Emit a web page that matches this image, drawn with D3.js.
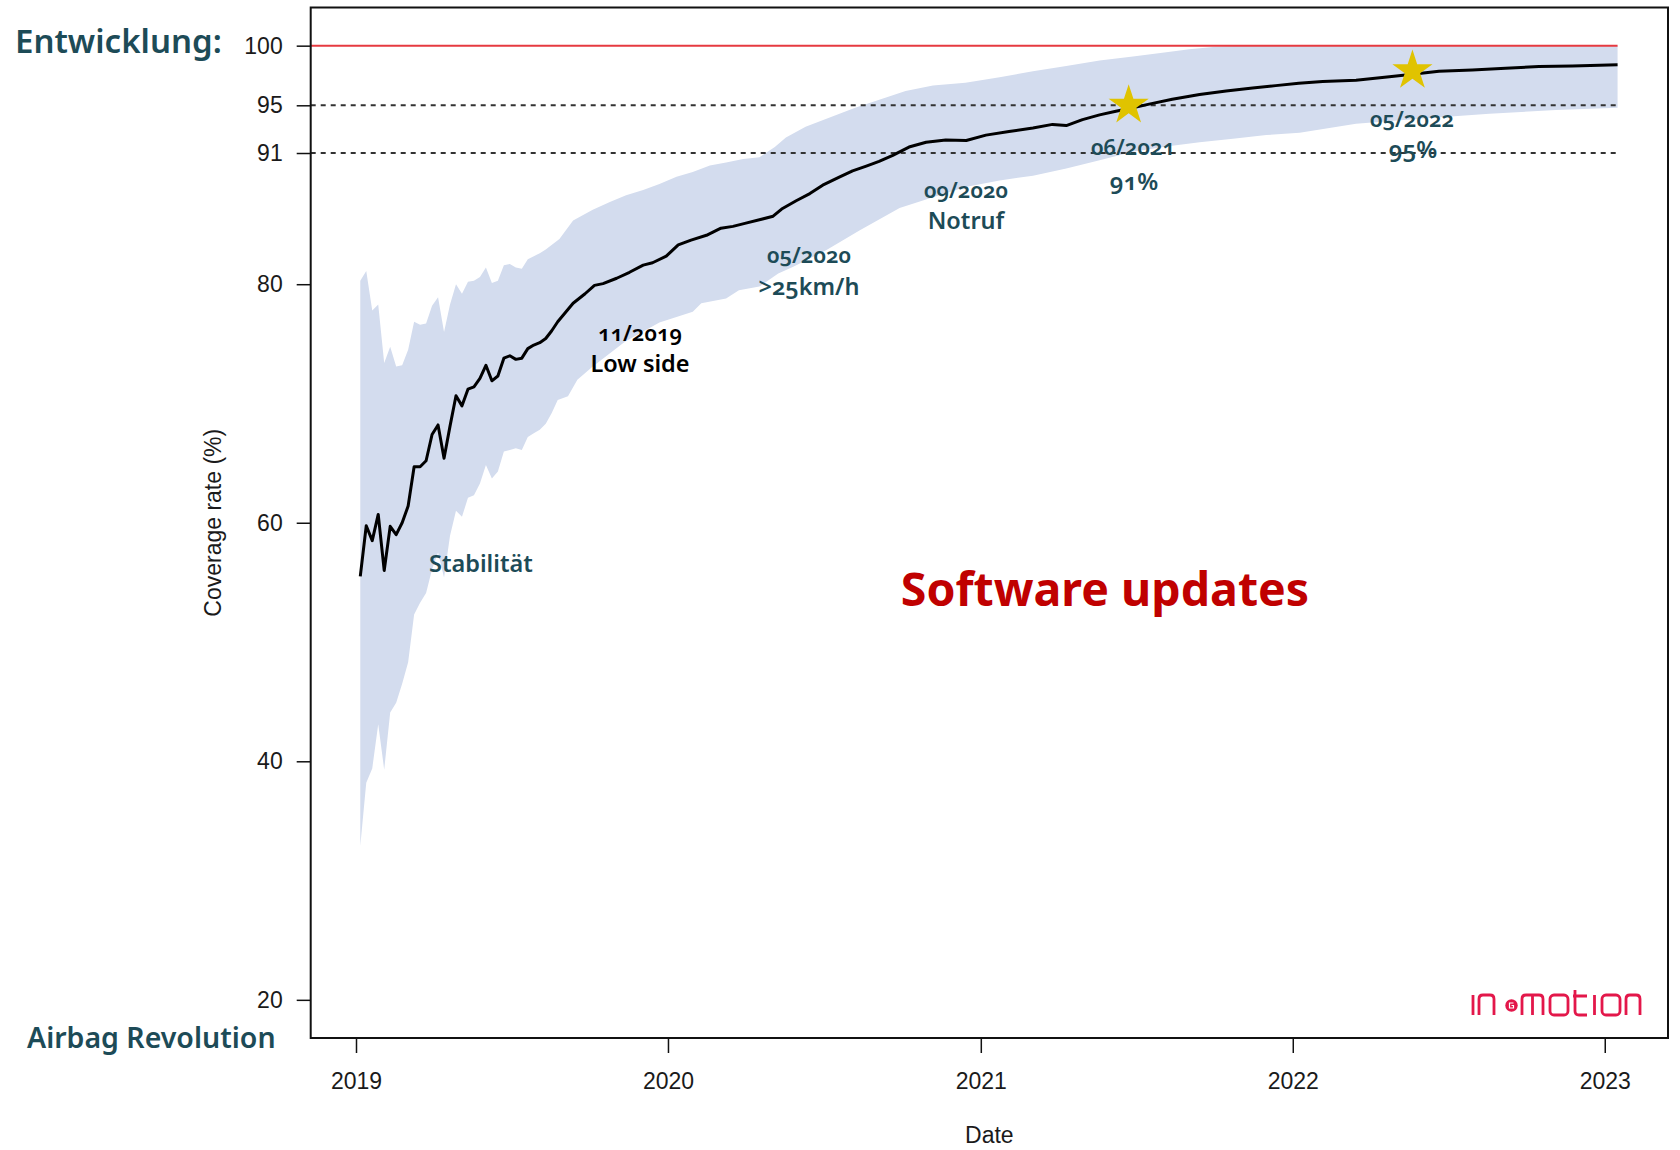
<!DOCTYPE html>
<html>
<head>
<meta charset="utf-8">
<script src="https://cdn.jsdelivr.net/npm/d3@7"></script>
<style>
  body { margin: 0; background: #fff; }
  svg { display: block; }
  .note { font-family: "Noto Sans", "Open Sans", sans-serif; font-variant-numeric: oldstyle-nums; }
</style>
</head>
<body>
<svg id="chart"></svg>
<script>
// median coverage rate (black line)
const lineDates = [
  "2019-01-06","2019-01-13","2019-01-20","2019-01-27","2019-02-03","2019-02-10","2019-02-17","2019-02-24",
  "2019-03-03","2019-03-10","2019-03-17","2019-03-24","2019-03-31","2019-04-07","2019-04-14","2019-04-21",
  "2019-04-28","2019-05-05","2019-05-12","2019-05-19","2019-05-26","2019-06-02","2019-06-09","2019-06-16",
  "2019-06-23","2019-06-30","2019-07-07","2019-07-14","2019-07-21","2019-07-28","2019-08-04","2019-08-11",
  "2019-08-18","2019-08-25","2019-09-12","2019-09-26","2019-10-07","2019-10-17","2019-11-02","2019-11-17",
  "2019-12-03","2019-12-14","2019-12-30","2020-01-13","2020-01-28","2020-02-15","2020-03-03","2020-03-17",
  "2020-03-31","2020-04-17","2020-05-03","2020-05-13","2020-05-30","2020-06-15","2020-06-30","2020-07-20",
  "2020-08-04","2020-08-20","2020-09-04","2020-09-20","2020-10-09","2020-10-29","2020-11-21","2020-12-15",
  "2021-01-07","2021-02-03","2021-03-03","2021-03-26","2021-04-11","2021-04-30","2021-05-20","2021-06-08",
  "2021-06-28","2021-07-17","2021-08-13","2021-09-14","2021-10-15","2021-11-15","2021-12-12","2022-01-08",
  "2022-02-05","2022-03-16","2022-04-24","2022-05-21","2022-06-21","2022-07-30","2022-09-07","2022-10-16",
  "2022-11-24","2023-01-16"
];
const lineValues = [
  55.5, 59.75, 58.5, 60.7, 56.0, 59.7, 59.0, 60.0,
  61.4, 64.7, 64.7, 65.2, 67.4, 68.2, 65.4, 68.1,
  70.65, 69.8, 71.2, 71.4, 72.1, 73.2, 71.9, 72.3,
  73.8, 74.0, 73.7, 73.8, 74.6, 74.9, 75.1, 75.45,
  76.1, 76.85, 78.4, 79.2, 79.9, 80.05, 80.5, 81.0,
  81.6, 81.8, 82.35, 83.3, 83.7, 84.1, 84.7, 84.85,
  85.1, 85.4, 85.7, 86.3, 87.0, 87.6, 88.3, 89.0,
  89.5, 89.9, 90.3, 90.8, 91.5, 91.9, 92.1, 92.05,
  92.5, 92.8, 93.1, 93.4, 93.3, 93.8, 94.2, 94.5,
  94.8, 95.1, 95.5, 95.9, 96.2, 96.45, 96.65, 96.85,
  97.0, 97.1, 97.4, 97.6, 97.85, 97.95, 98.1, 98.25,
  98.3, 98.4
];

// upper edge of the band
const upperDates = [
  "2019-01-06","2019-01-13","2019-01-20","2019-01-27","2019-02-03","2019-02-10","2019-02-17","2019-02-24",
  "2019-03-03","2019-03-10","2019-03-17","2019-03-24","2019-03-31","2019-04-07","2019-04-14","2019-04-21",
  "2019-04-28","2019-05-05","2019-05-12","2019-05-19","2019-05-26","2019-06-02","2019-06-09","2019-06-16",
  "2019-06-23","2019-06-30","2019-07-07","2019-07-14","2019-07-21","2019-07-28","2019-08-04","2019-08-11",
  "2019-08-27","2019-09-12","2019-10-05","2019-10-25","2019-11-13","2019-12-03","2019-12-22","2020-01-11",
  "2020-01-30","2020-02-19","2020-03-09","2020-03-29","2020-04-17","2020-05-05","2020-05-18","2020-06-10",
  "2020-08-07","2020-10-05","2020-11-06","2020-12-14","2021-01-23","2021-03-03","2021-04-11","2021-05-20",
  "2021-06-28","2021-08-06","2021-09-02","2021-10-03","2021-10-31","2023-01-16"
];
const upperValues = [
  80.3, 81.1, 77.8, 78.3, 73.4, 74.75, 73.1, 73.2,
  74.5, 76.85, 76.6, 76.7, 78.2, 78.9, 76.0, 78.3,
  80.0, 79.2, 80.2, 80.3, 80.6, 81.4, 80.1, 80.3,
  81.6, 81.7, 81.4, 81.3, 82.1, 82.35, 82.6, 82.9,
  83.8, 85.35, 86.25, 86.9, 87.45, 87.9, 88.4, 89.0,
  89.4, 89.95, 90.2, 90.5, 90.65, 91.5, 92.3, 93.2,
  94.8, 96.2, 96.65, 96.9, 97.35, 97.85, 98.3, 98.75,
  99.1, 99.45, 99.7, 99.9, 100, 100
];

// lower edge of the band
const lowerDates = [
  "2019-01-06","2019-01-13","2019-01-20","2019-01-27","2019-02-03","2019-02-10","2019-02-17","2019-02-24",
  "2019-03-03","2019-03-10","2019-03-17","2019-03-24","2019-03-31","2019-04-07","2019-04-14","2019-04-21",
  "2019-04-28","2019-05-05","2019-05-12","2019-05-19","2019-05-26","2019-06-02","2019-06-09","2019-06-16",
  "2019-06-23","2019-06-30","2019-07-07","2019-07-14","2019-07-21","2019-07-28","2019-08-04","2019-08-11",
  "2019-08-18","2019-08-25","2019-09-06","2019-09-17","2019-10-05","2019-11-12","2019-12-22","2020-01-30",
  "2020-02-09","2020-03-09","2020-03-24","2020-04-17","2020-05-09","2020-05-26","2020-07-04","2020-08-12",
  "2020-09-28","2020-11-06","2020-12-14","2021-01-23","2021-03-03","2021-04-11","2021-05-20","2021-06-28",
  "2021-08-06","2021-09-14","2021-10-23","2021-12-01","2022-01-09","2022-03-16","2022-06-02","2022-08-19",
  "2022-11-05","2023-01-16"
];
const lowerValues = [
  32.9, 38.2, 39.4, 43.1, 39.3, 44.1, 44.9, 46.5,
  48.3, 52.3, 53.3, 54.1, 56.1, 57.5, 55.4, 58.9,
  61.0, 60.5, 62.1, 62.3, 63.3, 64.85, 63.7, 64.3,
  65.97, 66.1, 66.25, 66.1, 67.2, 67.5, 67.8, 68.3,
  69.2, 70.3, 70.6, 72.0, 73.1, 75.2, 76.8, 77.7,
  78.4, 78.8, 79.5, 79.8, 80.9, 81.45, 82.85, 84.5,
  86.4, 87.3, 88.15, 88.7, 89.1, 89.7, 90.4, 91.1,
  91.55, 91.9, 92.2, 92.5, 92.7, 93.45, 93.9, 94.3,
  94.6, 94.8
];

// milestones marked with stars
const starDates = ["2021-06-23", "2022-05-21"];
const starValues = [95.0, 97.9];

const yTicks = [20, 40, 60, 80, 91, 95, 100];
const xTickYears = ["2019", "2020", "2021", "2022", "2023"];
const refLines = [91, 95];
const targetLine = 100;

const width = 1680;
const height = 1150;
const plot = { left: 310.7, right: 1668, top: 7.5, bottom: 1038 };

const parseDate = d3.utcParse('%Y-%m-%d');
const teal = '#1d4b57';

let svg = d3.select('#chart').attr('width', width).attr('height', height);

let xScale = d3.scaleUtc()
  .domain([parseDate('2018-11-09'), parseDate('2023-03-16')])
  .range([plot.left, plot.right]);

let yScale = d3.scaleLinear()
  .domain([16.8, 103.2])
  .range([plot.bottom, plot.top]);

const lineData = lineDates.map((d, i) => ({ date: parseDate(d), value: lineValues[i] }));
const upperData = upperDates.map((d, i) => ({ date: parseDate(d), value: upperValues[i] }));
const lowerData = lowerDates.map((d, i) => ({ date: parseDate(d), value: lowerValues[i] }));
const endDate = lineData[lineData.length - 1].date;

const pathGen = d3.line()
  .x(d => xScale(d.date))
  .y(d => yScale(d.value));

// band: upper edge left to right, lower edge back
svg.append('path')
  .attr('d', pathGen(upperData.concat(lowerData.slice().reverse())) + 'Z')
  .attr('fill', '#d3dcee');

// reference lines
svg.append('line')
  .attr('x1', plot.left).attr('x2', xScale(endDate))
  .attr('y1', yScale(targetLine)).attr('y2', yScale(targetLine))
  .attr('stroke', '#e63a40').attr('stroke-width', 2);

svg.selectAll('.ref')
  .data(refLines)
  .enter()
  .append('line')
  .attr('class', 'ref')
  .attr('x1', plot.left).attr('x2', xScale(endDate))
  .attr('y1', d => yScale(d)).attr('y2', d => yScale(d))
  .attr('stroke', '#333').attr('stroke-width', 2)
  .attr('stroke-dasharray', '5,5');

// median line
svg.append('path')
  .attr('d', pathGen(lineData))
  .attr('fill', 'none')
  .attr('stroke', '#000')
  .attr('stroke-width', 3)
  .attr('stroke-linejoin', 'round');

// stars
svg.selectAll('.star')
  .data(starDates.map((d, i) => ({ date: parseDate(d), value: starValues[i] })))
  .enter()
  .append('path')
  .attr('class', 'star')
  .attr('d', d3.symbol().type(d3.symbolStar).size(500))
  .attr('transform', d => 'translate(' + xScale(d.date) + ',' + yScale(d.value) + ')')
  .attr('fill', '#e0c300');

// frame
svg.append('rect')
  .attr('x', plot.left).attr('y', plot.top)
  .attr('width', plot.right - plot.left).attr('height', plot.bottom - plot.top)
  .attr('fill', 'none').attr('stroke', '#111').attr('stroke-width', 2);

// axes
let yAxis = d3.axisLeft(yScale).tickValues(yTicks).tickSize(14).tickPadding(14);
let yG = svg.append('g')
  .attr('transform', 'translate(' + plot.left + ',0)')
  .call(yAxis);

let xAxis = d3.axisBottom(xScale)
  .tickValues(xTickYears.map(y => parseDate(y + '-01-01')))
  .tickFormat(d3.utcFormat('%Y'))
  .tickSize(15).tickPadding(20);
let xG = svg.append('g')
  .attr('transform', 'translate(0,' + plot.bottom + ')')
  .call(xAxis);

[yG, xG].forEach(g => {
  g.select('.domain').remove();
  g.selectAll('.tick line').attr('stroke', '#111').attr('stroke-width', 1.5);
  g.selectAll('.tick text')
    .attr('font-family', '"Liberation Sans", Arial, sans-serif')
    .attr('font-size', 23)
    .attr('fill', '#1a1a1a');
});

svg.append('text')
  .attr('x', (plot.left + plot.right) / 2).attr('y', 1143)
  .attr('text-anchor', 'middle')
  .attr('font-family', '"Liberation Sans", Arial, sans-serif')
  .attr('font-size', 23).attr('fill', '#1a1a1a')
  .text('Date');

svg.append('text')
  .attr('transform', 'translate(221,' + ((plot.top + plot.bottom) / 2) + ') rotate(-90)')
  .attr('text-anchor', 'middle')
  .attr('font-family', '"Liberation Sans", Arial, sans-serif')
  .attr('font-size', 23).attr('fill', '#1a1a1a')
  .text('Coverage rate (%)');

// annotations
function note (x, y, txt, size, weight, color, anchor) {
  svg.append('text')
    .attr('class', 'note')
    .attr('x', x).attr('y', y)
    .attr('text-anchor', anchor || 'middle')
    .attr('font-size', size)
    .attr('font-weight', weight)
    .attr('fill', color)
    .text(txt);
}

note(15, 53, 'Entwicklung:', 33, 600, teal, 'start');
note(27, 1048, 'Airbag Revolution', 28.5, 600, teal, 'start');
note(1105, 606, 'Software updates', 46.5, 700, '#c00000');
note(429, 572, 'Stabilität', 23.5, 600, teal, 'start');
note(640, 341, '11/2019', 22, 600, '#000');
note(640, 372, 'Low side', 23.5, 600, '#000');
note(809, 263, '05/2020', 22, 600, teal);
note(809, 295, '>25km/h', 23.5, 600, teal);
note(966, 198, '09/2020', 22, 600, teal);
note(966, 229, 'Notruf', 23.5, 600, teal);
note(1133, 155, '06/2021', 22, 600, teal);
note(1134, 190, '91%', 24, 600, teal);
note(1412, 127, '05/2022', 22, 600, teal);
note(1413, 158, '95%', 24, 600, teal);

// inmotion logo, drawn as thin square strokes
let logo = svg.append('g')
  .attr('fill', 'none')
  .attr('stroke', '#e3174a')
  .attr('stroke-width', 2.8);
const logoStrokes = [
  'M1473,995V1015',
  'M1479,1015V999Q1479,995 1483,995H1490Q1494,995 1494,999V1015',
  'M1522,1015V999Q1522,995 1526,995H1539Q1543,995 1543,999V1015M1532.5,995V1015',
  'M1575,990V1011Q1575,1015 1579,1015H1587M1573,996H1587',
  'M1594.5,995V1015',
  'M1626,1015V999Q1626,995 1630,995H1636Q1640,995 1640,999V1015'
];
logoStrokes.forEach(p => logo.append('path').attr('d', p));
logo.append('rect').attr('x', 1550).attr('y', 995).attr('width', 18).attr('height', 20).attr('rx', 4);
logo.append('rect').attr('x', 1602).attr('y', 995).attr('width', 18).attr('height', 20).attr('rx', 4);
svg.append('circle').attr('cx', 1511.5).attr('cy', 1005.5).attr('r', 6.2).attr('fill', '#e3174a');
svg.append('path')
  .attr('d', 'M1513.5,1003H1509.5V1008H1513.5V1005.5H1511.5')
  .attr('fill', 'none').attr('stroke', '#fff').attr('stroke-width', 1.2);
</script>
</body>
</html>
